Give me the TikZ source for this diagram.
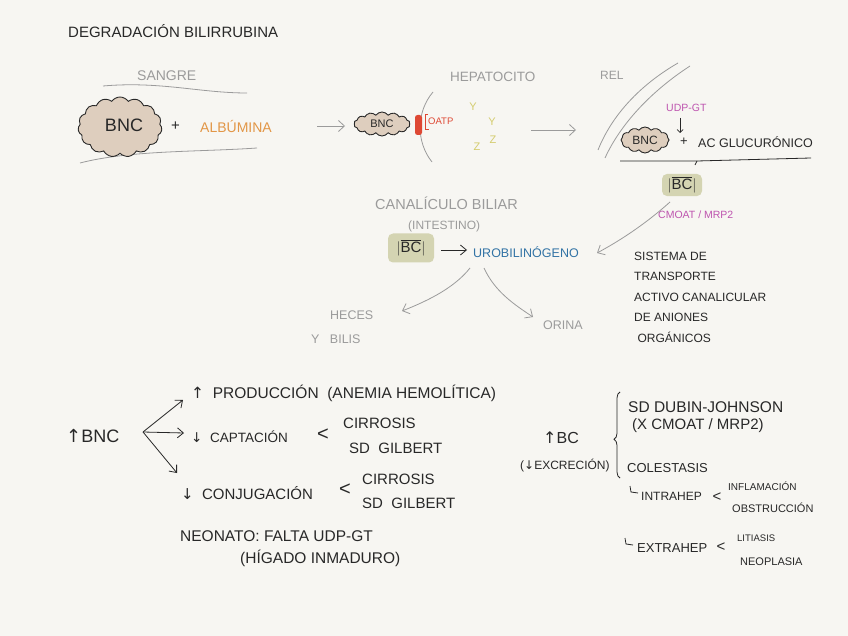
\documentclass[tikz,border=0pt]{standalone}
\usepackage{fontspec}
\setmainfont{Liberation Sans}
\newfontfamily\arr{DejaVu Sans}
\usetikzlibrary{arrows.meta,shapes.symbols,decorations.pathreplacing}
\definecolor{bg}{RGB}{247,246,242}
\definecolor{ink}{RGB}{40,40,40}
\definecolor{pale}{RGB}{155,155,155}
\definecolor{tan}{RGB}{222,206,190}
\definecolor{olive}{RGB}{212,212,178}
\definecolor{orng}{RGB}{226,150,70}
\definecolor{rd}{RGB}{222,72,52}
\definecolor{yel}{RGB}{212,204,110}
\definecolor{mag}{RGB}{190,85,175}
\definecolor{blu}{RGB}{50,115,165}
\newcommand\fz[1]{\fontsize{#1}{#1}\selectfont}
\tikzset{
  txt/.style={font=\fz{15}, inner sep=0pt, text=ink, anchor=west},
  gtxt/.style={txt, text=pale},
  blob/.style={cloud, cloud puffs=15, cloud puff arc=110, aspect=1.3, draw=ink, line width=0.9pt, fill=tan, inner sep=0pt},
  bcbox/.style={rounded corners=5pt, fill=olive, inner sep=3pt, font=\fz{15}, text=ink},
  garrow/.style={draw=pale, line width=0.8pt, -{Straight Barb[length=6pt,width=11pt]}},
  barrow/.style={draw=ink, line width=0.8pt, -{Straight Barb[length=6pt,width=10pt]}},
  gline/.style={draw=pale, line width=0.8pt},
  lt/.style={font=\fz{20}, inner sep=0pt, text=ink},
}
\begin{document}
\begin{tikzpicture}[x=1pt,y=-1pt]
\fill[bg] (0,0) rectangle (848,636);
\useasboundingbox (0,0) rectangle (848,636);

% title
\node[txt] (title) at (68,31) {DEGRADACIÓN BILIRRUBINA};

% sangre
\node[gtxt, font=\fz{14}] (sangre) at (137,76) {SANGRE};
\draw[gline] (103,86) .. controls (160,81) and (200,93) .. (247,93);
\draw[gline] (80,163) .. controls (130,150) and (200,152) .. (257,148);
\node[blob, minimum width=84pt, minimum height=60pt] (bnc1) at (120,127) {};
\node[font=\fz{18}, text=ink, inner sep=0pt] (bnc1t) at (124,125) {BNC};
\node[txt] (plus1) at (171,126) {+};
\node[txt, text=orng, font=\fz{14}] (alb) at (200,126) {ALBÚMINA};
\coordinate (a1s) at (317,126);
\coordinate (a1e) at (345,126);
\draw[garrow] (a1s) -- (a1e);

% hepatocito
\node[gtxt, font=\fz{13.5}] (hep) at (450,77) {HEPATOCITO};
\node[blob, minimum width=56pt, minimum height=24pt, cloud puffs=14] (bnc2) at (382,124) {};
\node[font=\fz{11}, text=ink, inner sep=0pt] (bnc2t) at (382,124) {BNC};
\draw[gline] (433,92) .. controls (416,112) and (416,142) .. (432,162);
\fill[rd, rounded corners=2.5pt] (415,115) rectangle (422,135);
\node[txt, text=rd, font=\fz{9.5}] (oatp) at (428,121) {OATP};
\draw[rd, line width=0.7pt] (428,114) -- (425,114) -- (425,129) -- (429,129);
\node[font=\fz{11}, text=yel, inner sep=0pt] (y1) at (473,107) {Y};
\node[font=\fz{11}, text=yel, inner sep=0pt] (y2) at (492,122) {Y};
\node[font=\fz{11}, text=yel, inner sep=0pt] (z1) at (477,147) {Z};
\node[font=\fz{11}, text=yel, inner sep=0pt] (z2) at (493,140) {Z};
\coordinate (a2s) at (531,130);
\coordinate (a2e) at (576,130);
\draw[garrow] (a2s) -- (a2e);

% REL
\node[gtxt, font=\fz{12}] (rel) at (600,75) {REL};
\draw[gline] (678,63) .. controls (640,85) and (612,115) .. (598,150);
\draw[gline] (690,66) .. controls (650,92) and (620,125) .. (605,158);
\node[txt, text=mag, font=\fz{10.5}] (udp) at (666,108) {UDP-GT};
\coordinate (udpa) at (680,118);
\coordinate (udpb) at (680,133);
\draw[ink, line width=0.7pt, -{Straight Barb[length=3pt,width=6pt]}] (udpa) -- (udpb);
\node[blob, minimum width=48pt, minimum height=26pt, cloud puffs=12] (bnc3) at (645,140) {};
\node[font=\fz{12}, text=ink, inner sep=0pt] (bnc3t) at (645,140) {BNC};
\node[txt, font=\fz{13}] (plus3) at (680,142) {+};
\node[txt, font=\fz{12.5}] (glu) at (698,142) {AC GLUCURÓNICO};
\coordinate (ubl) at (620,161);
\coordinate (ubm) at (697,161);
\coordinate (ubr) at (811,158);
\draw[ink, line width=0.8pt] (ubl) -- (ubm) -- (ubr);
\draw[ink, line width=0.8pt] (ubm) -- ++(-2,4);
\node[bcbox, minimum width=40pt, minimum height=21pt] (bc1) at (682,185) {$|\overline{\mathrm{BC}}|$};
\node[txt, text=mag, font=\fz{10.5}] (cmoat) at (658,215) {CMOAT / MRP2};

% canaliculo
\node[gtxt, font=\fz{14.5}] (canal) at (375,203) {CANALÍCULO BILIAR};
\node[gtxt, font=\fz{12}] (intest) at (408,226) {(INTESTINO)};
\node[bcbox, minimum width=46pt, minimum height=29pt] (bc2) at (411,248) {$|\overline{\mathrm{BC}}|$};
\node[txt, text=blu, font=\fz{12.5}] (uro) at (473,252) {UROBILINÓGENO};
\coordinate (bca) at (441,250);
\coordinate (bcb) at (467,250);
\draw[barrow] (bca) -- (bcb);
\coordinate (c1s) at (670,202);
\coordinate (c1e) at (597,253);
\draw[garrow] (c1s) .. controls (650,220) and (625,238) .. (c1e);
\coordinate (ua) at (470,268);
\coordinate (ub) at (484,268);
\node[gtxt, font=\fz{12.5}] (heces) at (330,315) {HECES};
\node[gtxt, font=\fz{12.5}] (bilis) at (311,339) {Y \ \ BILIS};
\node[gtxt, font=\fz{12.5}] (orina) at (543,325) {ORINA};
\coordinate (hh) at (402,311);
\coordinate (oo) at (533,317);
\draw[garrow] (ua) .. controls (455,287) and (430,300) .. (hh);
\draw[garrow] (ub) .. controls (495,292) and (515,305) .. (oo);

% transport text
\node[txt, align=left, font=\fontsize{12}{20.5}\selectfont] (sist) at (634,297) {SISTEMA DE\\TRANSPORTE\\ACTIVO CANALICULAR\\DE ANIONES\\\ ORGÁNICOS};

% bottom left
\node[txt, font=\fz{18}] (bnc4) at (66,436) {{\arr ↑}BNC};
\node[txt, font=\fz{15.5}] (prod) at (191,393) {{\arr ↑} \ PRODUCCIÓN \ (ANEMIA HEMOLÍTICA)};
\node[txt, font=\fz{13.5}] (capt) at (191,437) {{\arr ↓} \ CAPTACIÓN};
\node[txt, font=\fz{15}] (conj) at (181,493) {{\arr ↓} \ CONJUGACIÓN};
\coordinate (bo) at (143,432);
\coordinate (t1) at (183,400);
\coordinate (t2) at (184,433);
\coordinate (t3) at (177,473);
\draw[barrow] (bo) -- (t1);
\draw[barrow] (bo) -- (t2);
\draw[barrow] (bo) -- (t3);
\node[lt] (lt1) at (323,435) {<};
\node[txt] (cir1) at (343,423) {CIRROSIS};
\node[txt] (gil1) at (349,448) {SD \ GILBERT};
\node[lt] (lt2) at (345,490) {<};
\node[txt] (cir2) at (362,479) {CIRROSIS};
\node[txt] (gil2) at (362,503) {SD \ GILBERT};
\node[txt, font=\fz{15.5}] (neo) at (180,536) {NEONATO: FALTA UDP-GT};
\node[txt, font=\fz{15.5}] (hig) at (240,558) {(HÍGADO INMADURO)};

% bottom right
\node[txt, font=\fz{16}] (bc3) at (543,438) {{\arr ↑}BC};
\node[txt, font=\fz{12}] (excr) at (520,466) {({\arr ↓}EXCRECIÓN)};
\draw[ink, line width=0.8pt, decorate, decoration={brace, amplitude=6pt, mirror, aspect=0.55}] (620,392) -- (620,478);
\node[txt, font=\fz{15.5}] (dub) at (628,407) {SD DUBIN-JOHNSON};
\node[txt, font=\fz{15}] (xcm) at (632,426) {(X CMOAT / MRP2)};
\node[txt, font=\fz{13}] (cole) at (627,468) {COLESTASIS};
\draw[ink, line width=0.8pt] (630,486) -- (631,492) -- (638,493);
\node[txt, font=\fz{12}] (intra) at (641,496) {INTRAHEP};
\node[lt, font=\fz{15}] (lt3) at (717,497) {<};
\node[txt, font=\fz{10}] (infl) at (728,486) {INFLAMACIÓN};
\node[txt, font=\fz{11}] (obst) at (732,508) {OBSTRUCCIÓN};
\draw[ink, line width=0.8pt] (625,538) -- (626,544) -- (633,545);
\node[txt, font=\fz{13}] (extra) at (637,548) {EXTRAHEP};
\node[lt, font=\fz{15}] (lt4) at (721,547) {<};
\node[txt, font=\fz{9.5}] (lit) at (737,538) {LITIASIS};
\node[txt, font=\fz{11}] (neop) at (740,562) {NEOPLASIA};
\end{tikzpicture}
\end{document}
